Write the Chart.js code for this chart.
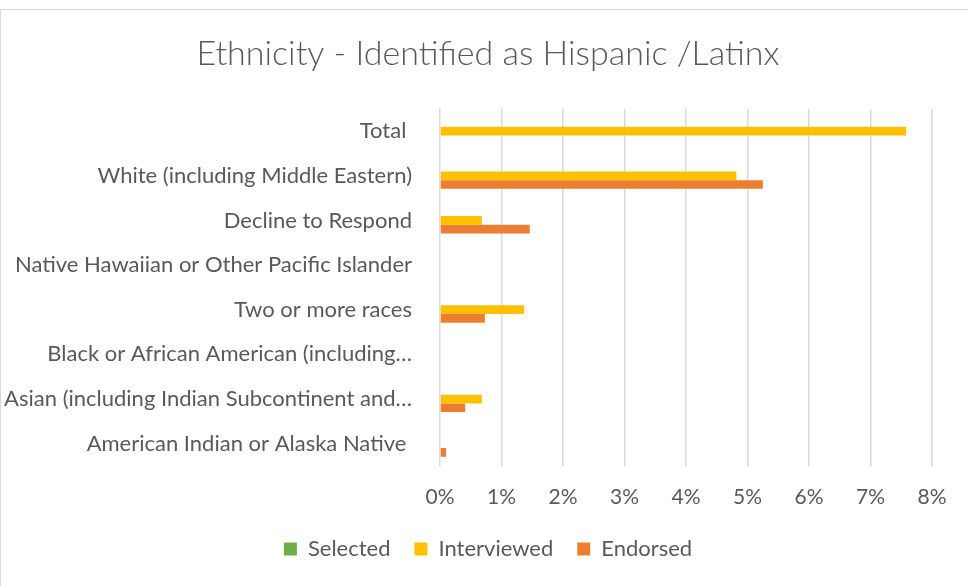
<!DOCTYPE html>
<html lang="en">
<head>
    <meta charset="UTF-8">
    <title>Ethnicity - Identified as Hispanic /Latinx</title>
    <script src="https://cdn.jsdelivr.net/npm/chart.js"></script>
    <style>
        html, body {
            margin: 0;
            padding: 0;
            background: #fff;
            overflow: hidden;
        }

        #frame {
            position: absolute;
            left: 0;
            top: 9px;
            width: 1000px;
            height: 1000px;
            border: 1px solid #d9d9d9;
        }

        #wrap {
            position: absolute;
            left: 0;
            top: 0;
            width: 968px;
            height: 586px;
        }
    </style>
</head>
<body>
    <div id="frame"></div>
    <div id="wrap">
        <canvas id="myChart"></canvas>
    </div>

    <script>
        const categories = [
            "Total ",
            "White (including Middle Eastern)",
            "Decline to Respond",
            "Native Hawaiian or Other Pacific Islander",
            "Two or more races",
            "Black or African American (including\u2026",
            "Asian (including Indian Subcontinent and\u2026",
            "American Indian or Alaska Native "
        ];
        // values in percent
        const selected    = [0, 0, 0, 0, 0, 0, 0, 0];
        const interviewed = [7.58, 4.82, 0.68, 0, 1.37, 0, 0.68, 0];
        const endorsed    = [0, 5.25, 1.46, 0, 0.73, 0, 0.41, 0.10];
        const xTicks = [0, 1, 2, 3, 4, 5, 6, 7, 8];

        const grey = '#595959';
        const font = "Lato, 'Open Sans', sans-serif";

        // the left padding centres title and legend like the original,
        // so let the long category labels run into it instead of being clipped
        const labelRoom = {
            id: 'labelRoom',
            beforeDraw(chart) {
                chart.scales.y.left = 0;
            }
        };

        const ctx = document.getElementById("myChart").getContext("2d");
        new Chart(ctx, {
            type: 'bar',
            data: {
                labels: categories,
                datasets: [
                    { label: 'Selected', data: selected, backgroundColor: '#70AD47' },
                    { label: 'Interviewed', data: interviewed, backgroundColor: '#FFC000' },
                    { label: 'Endorsed', data: endorsed, backgroundColor: '#ED7D31' }
                ]
            },
            plugins: [labelRoom],
            options: {
                indexAxis: 'y',
                responsive: true,
                maintainAspectRatio: false,
                animation: false,
                categoryPercentage: 0.585,
                barPercentage: 1,
                layout: { padding: { left: 44, right: 36, top: 0, bottom: 16 } },
                plugins: {
                    title: {
                        display: true,
                        text: 'Ethnicity - Identified as Hispanic /Latinx',
                        color: grey,
                        font: { family: font, size: 34, weight: 300 },
                        padding: { top: 34, bottom: 34 }
                    },
                    legend: {
                        position: 'bottom',
                        labels: {
                            color: grey,
                            font: { family: font, size: 22 },
                            boxWidth: 13,
                            boxHeight: 13,
                            padding: 24
                        }
                    },
                    tooltip: { enabled: false }
                },
                scales: {
                    x: {
                        min: 0,
                        max: 8,
                        afterBuildTicks: (scale) => {
                            scale.ticks = xTicks.map(v => ({ value: v }));
                        },
                        afterFit: (scale) => { scale.height = 48; },
                        grid: { color: '#d9d9d9', lineWidth: 1.5, drawTicks: false },
                        border: { display: false },
                        ticks: {
                            color: grey,
                            font: { family: font, size: 21 },
                            padding: 19,
                            callback: (v) => v + '%'
                        }
                    },
                    y: {
                        afterFit: (scale) => { scale.width = 396; },
                        grid: { display: false },
                        border: { display: false },
                        ticks: {
                            color: grey,
                            font: { family: font, size: 22 },
                            padding: 20,
                            crossAlign: 'near',
                            autoSkip: false
                        }
                    }
                }
            }
        });
    </script>
</body>
</html>
